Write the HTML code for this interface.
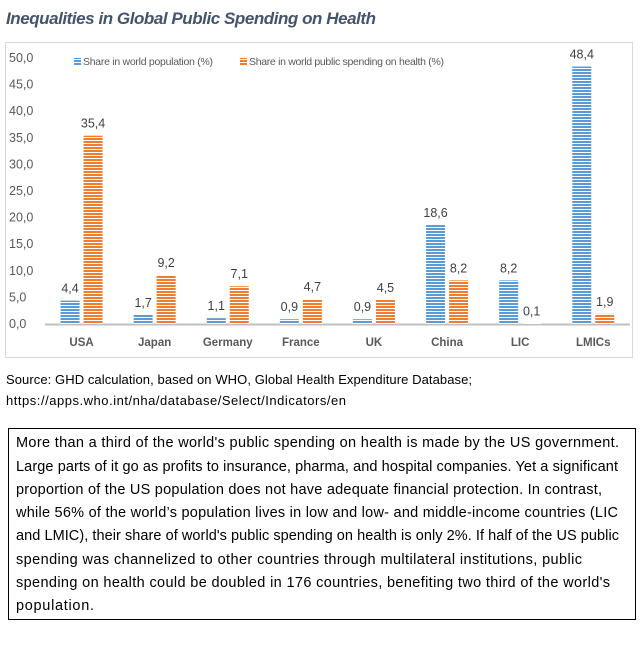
<!DOCTYPE html>
<html><head><meta charset="utf-8"><style>
body{margin:0;background:#fff;width:644px;height:648px;overflow:hidden}
svg{display:block;font-family:"Liberation Sans",sans-serif}
</style></head><body>
<svg id="c" width="644" height="648">
<defs>
<pattern id="pb" width="4" height="3" patternUnits="userSpaceOnUse"><rect width="4" height="3" fill="#fff"/><rect width="4" height="2" fill="#5b9bd5"/></pattern>
<pattern id="po" width="4" height="3" patternUnits="userSpaceOnUse"><rect width="4" height="3" fill="#fff"/><rect width="4" height="2" fill="#ed7d31"/></pattern>
</defs>
<text x="6" y="24" font-size="17" font-weight="bold" font-style="italic" fill="#44546a" textLength="370">Inequalities in Global Public Spending on Health</text>
<rect x="5.5" y="42.5" width="627" height="315" fill="none" stroke="#d9d9d9"/>
<g id="yaxis"></g>
<g id="bars"></g>
<g>
<g><rect x="74" y="58" width="7" height="7" fill="url(#pb)"/><text x="83" y="65" font-size="10.5" fill="#595959" textLength="130">Share in world population (%)</text></g>
<g><rect x="240" y="58" width="7" height="7" fill="url(#po)"/><text x="249" y="65" font-size="10.5" fill="#595959" textLength="195">Share in world public spending on health (%)</text></g>
</g>
<text x="6" y="384" font-size="13" fill="#000" textLength="466">Source: GHD calculation, based on WHO, Global Health Expenditure Database;</text>
<text x="6" y="405" font-size="13" fill="#000" textLength="340">https://apps.who.int/nha/database/Select/Indicators/en</text>
<rect x="8.5" y="428.5" width="627" height="191" fill="none" stroke="#000"/>
<g font-size="14.5" fill="#000">
<text x="16" y="447" textLength="603">More than a third of the world's public spending on health is made by the US government.</text>
<text x="16" y="471" textLength="602">Large parts of it go as profits to insurance, pharma, and hospital companies. Yet a significant</text>
<text x="16" y="494" textLength="586">proportion of the US population does not have adequate financial protection. In contrast,</text>
<text x="16" y="517" textLength="602">while 56% of the world’s population lives in low and low- and middle-income countries (LIC</text>
<text x="16" y="540" textLength="603">and LMIC), their share of world's public spending on health is only 2%. If half of the US public</text>
<text x="16" y="564" textLength="566">spending was channelized to other countries through multilateral institutions, public</text>
<text x="16" y="587" textLength="594">spending on health could be doubled in 176 countries, benefiting two third of the world's</text>
<text x="16" y="610" textLength="78">population.</text>
</g>
</svg>
<script>
const categories=["USA","Japan","Germany","France","UK","China","LIC","LMICs"];
const population=[4.4,1.7,1.1,0.9,0.9,18.6,8.2,48.4];
const spending=[35.4,9.2,7.1,4.7,4.5,8.2,0.1,1.9];
const yTicks=[0,5,10,15,20,25,30,35,40,45,50];
const NS="http://www.w3.org/2000/svg";
const y0=324,yTop=58,x0=45,step=73.1;
const Y=v=>y0-(v/50)*(y0-yTop);
const X=i=>x0+step*i+step/2;
const fmt=v=>v.toFixed(1).replace('.',',');
function el(t,a,p){const e=document.createElementNS(NS,t);for(const k in a)e.setAttribute(k,a[k]);p.appendChild(e);return e;}
const ya=document.getElementById('yaxis'),bg=document.getElementById('bars');
yTicks.forEach(v=>{const t=el('text',{x:9,y:Y(v)+4,'font-size':12.5,fill:'#595959'},ya);t.textContent=fmt(v);

});
const ax=el('line',{x1:x0,x2:630,y1:y0+0.5,y2:y0+0.5,stroke:'#bfbfbf','stroke-width':2},ya);


categories.forEach((c,i)=>{
  const cx=X(i);
  [[population[i],'url(#pb)',cx-21,'population'],[spending[i],'url(#po)',cx+2,'spending']].forEach(([v,f,x,s])=>{
    const r=el('rect',{x:x,y:Y(v),width:19,height:y0-Y(v),fill:f},bg);
    
    
    const t=el('text',{x:x+9.5,y:Y(v)-8,'font-size':12.5,fill:'#404040','text-anchor':'middle'},bg);t.textContent=fmt(v);
    
    
  });
  const l=el('text',{x:cx,y:346,'font-size':11.5,'font-weight':'bold',fill:'#595959','text-anchor':'middle'},bg);l.textContent=c;
  
  
});
</script>
</body></html>
